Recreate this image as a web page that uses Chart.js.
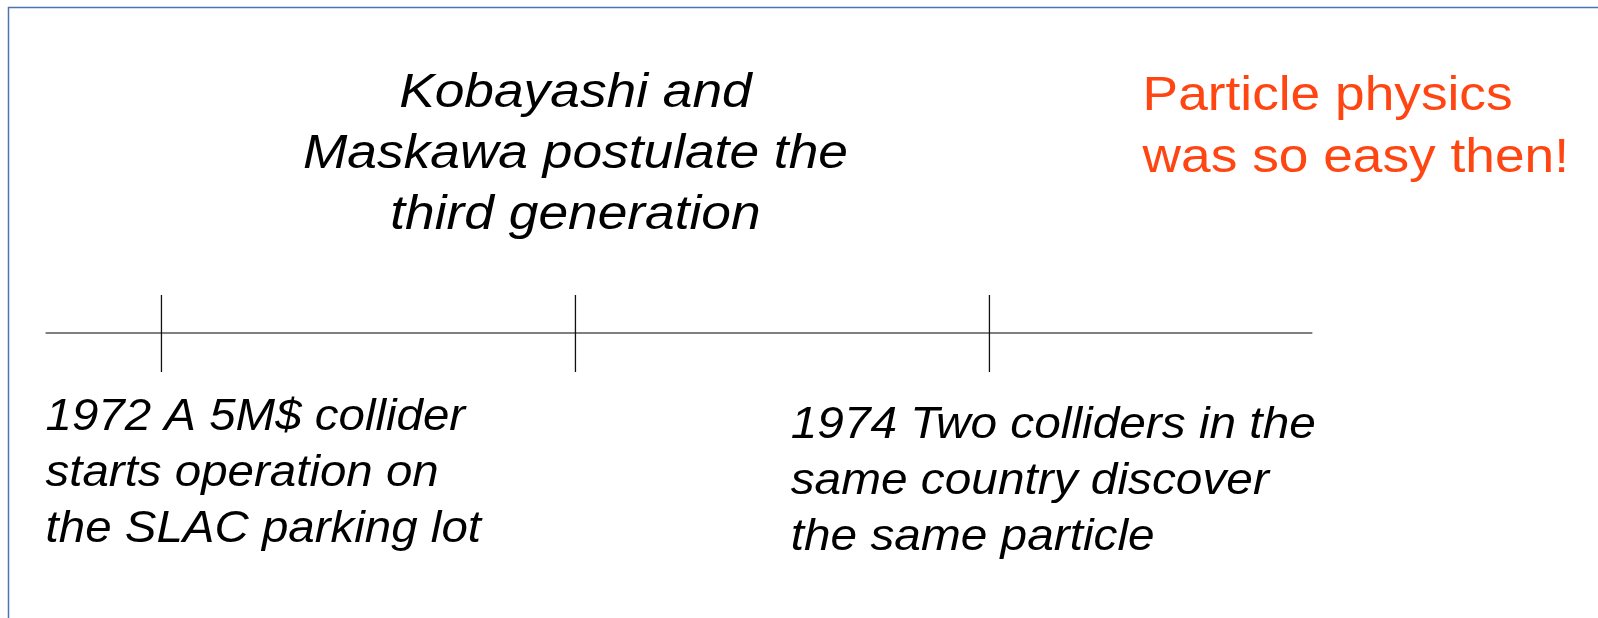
<!DOCTYPE html>
<html>
<head>
<meta charset="utf-8">
<script src="https://cdn.jsdelivr.net/npm/chart.js@4/dist/chart.umd.min.js"></script>
<style>
  html, body { margin: 0; padding: 0; background: #ffffff; }
  #wrap { position: relative; width: 1598px; height: 618px; }
</style>
</head>
<body>
<div id="wrap"><canvas id="timeline"></canvas></div>
<script>
// Timeline data
var tickYears = [1972, 1973, 1974];
var lineStartYear = 1971.72;
var lineEndYear = 1974.78;

// Event texts (one entry per line)
var noteKM = ['Kobayashi and', 'Maskawa postulate the', 'third generation'];
var note1972 = ['1972 A 5M$ collider', 'starts operation on', 'the SLAC parking lot'];
var note1974 = ['1974 Two colliders in the', 'same country discover', 'the same particle'];
var noteEasy = ['Particle physics', 'was so easy then!'];

// Where each block of text sits (x in years, y in px above the line)
// sx: the slide font renders a bit wider than Liberation Sans
var textBlocks = [
    { lines: noteKM,   x: 1973,    y: 226, align: 'center', font: 'italic 48px "Liberation Sans"', color: '#000000', lead: 61, sx: 1.11 },
    { lines: noteEasy, x: 1974.37, y: 223, align: 'left',   font: '49px "Liberation Sans"',        color: '#ff4511', lead: 62, sx: 1.087 },
    { lines: note1972, x: 1971.72, y: -97, align: 'left',   font: 'italic 45px "Liberation Sans"', color: '#000000', lead: 56, sx: 1.055 },
    { lines: note1974, x: 1973.52, y: -105, align: 'left',  font: 'italic 45px "Liberation Sans"', color: '#000000', lead: 56, sx: 1.062 }
];

var datasets = [
    // main timeline
    {
        data: [{ x: lineStartYear, y: 0 }, { x: lineEndYear, y: 0 }],
        borderColor: '#808080',
        borderWidth: 2,
        pointRadius: 0,
        order: 2
    }
];
// one short vertical mark per year
tickYears.forEach(function(yr) {
    datasets.push({
        data: [{ x: yr, y: 38 }, { x: yr, y: -39 }],
        borderColor: '#111111',
        borderWidth: 1.3,
        pointRadius: 0,
        order: 1
    });
});

var notesPlugin = {
    id: 'notes',
    beforeDraw: function(chart) {
        var c = chart.ctx;
        c.save();
        c.fillStyle = '#ffffff';
        c.fillRect(0, 0, chart.width, chart.height);
        // slide frame
        c.strokeStyle = '#4f73b5';
        c.lineWidth = 1.5;
        c.beginPath();
        c.moveTo(8.5, chart.height);
        c.lineTo(8.5, 7.5);
        c.lineTo(chart.width, 7.5);
        c.stroke();
        c.restore();
    },
    afterDatasetsDraw: function(chart) {
        var c = chart.ctx;
        var xs = chart.scales.x, ys = chart.scales.y;
        textBlocks.forEach(function(b) {
            c.save();
            c.textBaseline = 'alphabetic';
            c.font = b.font;
            c.fillStyle = b.color;
            c.textAlign = b.align;
            c.translate(xs.getPixelForValue(b.x), ys.getPixelForValue(b.y));
            c.scale(b.sx, 1);
            b.lines.forEach(function(t, i) {
                c.fillText(t, 0, i * b.lead);
            });
            c.restore();
        });
    }
};

new Chart(document.getElementById('timeline'), {
    type: 'line',
    data: { datasets: datasets },
    options: {
        responsive: true,
        maintainAspectRatio: false,
        animation: false,
        layout: { padding: 0 },
        plugins: {
            legend: { display: false },
            tooltip: { enabled: false }
        },
        scales: {
            x: { type: 'linear', min: 1971.61, max: 1975.47, display: false },
            y: { type: 'linear', min: -285, max: 333, display: false }
        }
    },
    plugins: [notesPlugin]
});
</script>
</body>
</html>
